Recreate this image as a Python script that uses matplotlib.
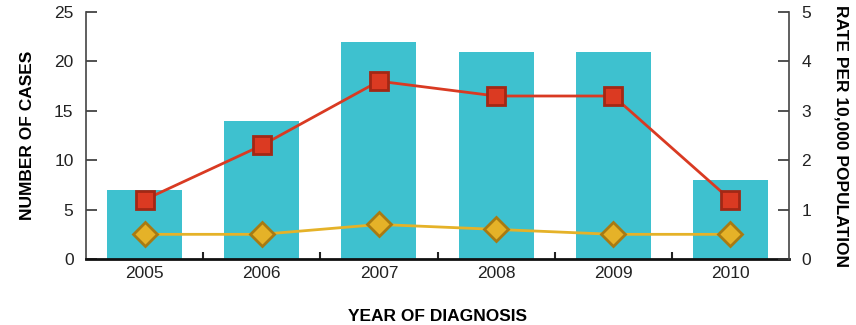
import numpy as np
import matplotlib.pyplot as plt

plt.rcParams['font.family'] = ['Liberation Sans', 'DejaVu Sans']

years = ['2005', '2006', '2007', '2008', '2009', '2010']
cases = [7, 14, 22, 21, 21, 8]
rate_red = [1.2, 2.3, 3.6, 3.3, 3.3, 1.2]
rate_yellow = [0.5, 0.5, 0.7, 0.6, 0.5, 0.5]

x = np.arange(len(years))

fig = plt.figure(figsize=(8.56, 3.25), dpi=100)
ax1 = fig.add_axes([0.1005, 0.203, 0.8212, 0.76])

ax1.bar(x, cases, width=0.64, color='#3EC1CF', zorder=1)
ax1.set_xlim(-0.5, 5.5)
ax1.set_ylim(0, 25)
ax1.set_yticks([0, 5, 10, 15, 20, 25])
ax1.set_xticks(x)
ax1.set_xticklabels(years)
ax1.set_xticks(x[:-1] + 0.5, minor=True)
ax1.tick_params(axis='x', which='major', length=0, labelsize=12.5, pad=5, labelcolor='#222222')
ax1.tick_params(axis='x', which='minor', direction='in', length=5, width=1.5, color='#222222')
ax1.tick_params(axis='y', direction='in', length=8, width=1.2, labelsize=12.5, color='#333333',
                pad=9, labelcolor='#222222')
ax1.set_xlabel('YEAR OF DIAGNOSIS', fontsize=12.5, fontweight='bold', labelpad=20)
ax1.set_ylabel('NUMBER OF CASES', fontsize=12.5, fontweight='bold', labelpad=14)
ax1.spines['top'].set_visible(False)
ax1.spines['left'].set_color('#444444')
ax1.spines['left'].set_linewidth(1.2)
ax1.spines['bottom'].set_color('#111111')
ax1.spines['bottom'].set_linewidth(2)
ax1.spines['right'].set_visible(False)

ax2 = ax1.twinx()
ax2.plot(x, rate_red, color='#D93A22', lw=2, marker='s', markersize=13,
         markerfacecolor='#DB3A22', markeredgecolor='#A22815', markeredgewidth=2, zorder=3)
ax2.plot(x, rate_yellow, color='#E5B228', lw=2, marker='D', markersize=12,
         markerfacecolor='#E5B228', markeredgecolor='#A87A12', markeredgewidth=2, zorder=2)
ax2.set_ylim(0, 5)
ax2.set_yticks([0, 1, 2, 3, 4, 5])
ax2.tick_params(axis='y', direction='in', length=8, width=1.2, labelsize=12.5, color='#333333',
                pad=9, labelcolor='#222222')
ax2.set_ylabel('RATE PER 10,000 POPULATION', fontsize=12.5, fontweight='bold',
               rotation=270, labelpad=27)
ax2.spines['top'].set_visible(False)
ax2.spines['left'].set_visible(False)
ax2.spines['bottom'].set_visible(False)
ax2.spines['right'].set_color('#444444')
ax2.spines['right'].set_linewidth(1.2)

fig.savefig('out.png', dpi=100)
